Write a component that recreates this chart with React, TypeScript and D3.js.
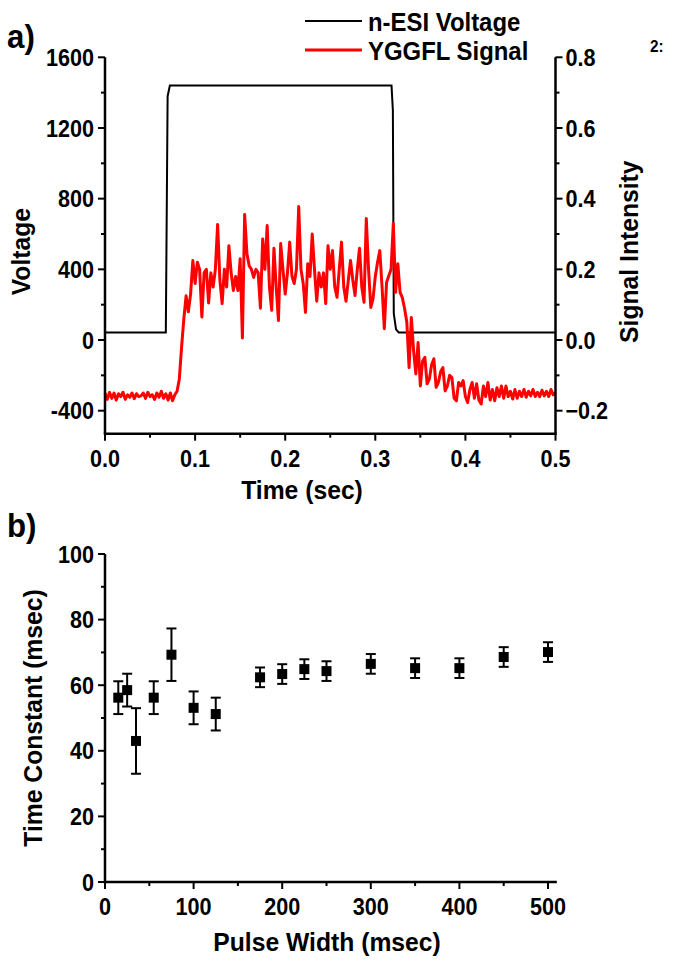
import React from 'react';
import * as d3 from 'd3';

// ---------- Panel a data ----------
const voltageTime = [0, 0.0675, 0.0695, 0.072, 0.318, 0.3195, 0.3205, 0.323, 0.326, 0.5];
const voltageValues = [43, 43, 1380, 1440, 1440, 1300, 150, 60, 43, 43];

const signalStep = 0.0025; // sampling interval (sec)
const signalValues = [
  -0.150, -0.168, -0.148, -0.165, -0.150, -0.170, -0.152, -0.160, -0.148, -0.168,
  -0.155, -0.162, -0.150, -0.166, -0.152, -0.160, -0.158, -0.150, -0.165, -0.148,
  -0.160, -0.155, -0.168, -0.150, -0.162, -0.145, -0.165, -0.152, -0.170, -0.150,
  -0.172, -0.155, -0.145, -0.110, -0.020, 0.060, 0.125, 0.080, 0.130, 0.225,
  0.160, 0.220, 0.200, 0.065, 0.190, 0.200, 0.105, 0.190, 0.150, 0.200,
  0.327, 0.170, 0.103, 0.200, 0.150, 0.267, 0.190, 0.140, 0.180, 0.140,
  0.230, 0.006, 0.355, 0.245, 0.210, 0.200, 0.177, 0.200, 0.190, 0.090,
  0.286, 0.200, 0.324, 0.150, 0.084, 0.260, 0.150, 0.055, 0.273, 0.200,
  0.130, 0.190, 0.277, 0.180, 0.160, 0.200, 0.378, 0.200, 0.160, 0.078,
  0.216, 0.180, 0.300, 0.200, 0.110, 0.190, 0.150, 0.190, 0.103, 0.267,
  0.200, 0.253, 0.150, 0.121, 0.200, 0.277, 0.150, 0.110, 0.168, 0.225,
  0.170, 0.126, 0.200, 0.260, 0.150, 0.107, 0.344, 0.200, 0.092, 0.117,
  0.180, 0.220, 0.253, 0.150, 0.032, 0.163, 0.182, 0.200, 0.330, 0.135,
  0.216, 0.135, 0.120, 0.089, 0.050, -0.078, 0.064, -0.030, -0.096, -0.007,
  -0.130, -0.060, -0.049, -0.124, -0.110, -0.070, -0.053, -0.134, -0.120, -0.090,
  -0.078, -0.144, -0.130, -0.100, -0.106, -0.165, -0.172, -0.120, -0.130, -0.115,
  -0.160, -0.177, -0.140, -0.120, -0.165, -0.124, -0.170, -0.181, -0.130, -0.160,
  -0.120, -0.170, -0.140, -0.172, -0.135, -0.160, -0.130, -0.165, -0.130, -0.160,
  -0.145, -0.167, -0.140, -0.165, -0.145, -0.160, -0.140, -0.162, -0.145, -0.158,
  -0.140, -0.160, -0.148, -0.160, -0.142, -0.158, -0.145, -0.160, -0.140, -0.155,
  -0.150,
];

const timeTicks = [0, 0.1, 0.2, 0.3, 0.4, 0.5];
const timeMinor = [0.05, 0.15, 0.25, 0.35, 0.45];
const voltTicks = [-400, 0, 400, 800, 1200, 1600];
const voltMinor = [-200, 200, 600, 1000, 1400];
const sigTicks = [-0.2, 0, 0.2, 0.4, 0.6, 0.8];
const sigMinor = [-0.1, 0.1, 0.3, 0.5, 0.7];

// ---------- Panel b data ----------
const pulseWidth = [15, 25, 35, 55, 75, 100, 125, 175, 200, 225, 250, 300, 350, 400, 450, 500];
const timeConstant = [56.2, 58.5, 43, 56.2, 69.3, 53.1, 51.2, 62.4, 63.4, 64.9, 64.3, 66.5, 65.2, 65.2, 68.6, 70.1];
const timeConstantErr = [5, 5, 10, 5, 8, 5, 5, 3, 3, 3, 3, 3, 3, 3, 3, 3];

const pwTicks = [0, 100, 200, 300, 400, 500];
const pwMinor = [50, 150, 250, 350, 450];
const tcTicks = [0, 20, 40, 60, 80, 100];
const tcMinor = [10, 30, 50, 70, 90];

const FONT = '"Liberation Sans", Arial, sans-serif';

// condensed bold text helper
function T(props: {
  x: number; y: number; size: number; sx?: number; rot?: number;
  anchor?: 'start' | 'middle' | 'end'; dy?: string; children: React.ReactNode;
}) {
  const { x, y, size, sx = 0.9, rot = 0, anchor = 'start', dy, children } = props;
  return (
    <text
      transform={`translate(${x},${y}) rotate(${rot}) scale(${sx},1)`}
      fontSize={size}
      textAnchor={anchor}
      dy={dy}
    >
      {children}
    </text>
  );
}

export default function App() {
  // Panel a scales
  const xA = d3.scaleLinear().domain([0, 0.5]).range([105, 555.5]);
  const yV = d3.scaleLinear().domain([-400, 1600]).range([410.7, 57.3]);
  const yS = d3.scaleLinear().domain([-0.2, 0.8]).range([410.7, 57.3]);
  const axisBottomA = yV(-530);

  const voltLine = d3.line<number>()
    .x((_, i) => xA(voltageTime[i]))
    .y((d) => yV(d))
    .curve(d3.curveLinear)(voltageValues) as string;

  const sigLine = d3.line<number>()
    .x((_, i) => xA(i * signalStep))
    .y((d) => yS(d))
    .curve(d3.curveLinear)(signalValues) as string;

  // Panel b scales
  const xB = d3.scaleLinear().domain([0, 500]).range([105, 548]);
  const yB = d3.scaleLinear().domain([0, 100]).range([882, 554]);
  const xBEnd = xB(510);

  const tickFont = 24;
  const labelFont = 26;
  const sw = 2.5;

  return (
    <svg
      width={686}
      height={968}
      style={{ position: 'absolute', left: 0, top: 0, background: '#fff' }}
      fontFamily={FONT}
      fontWeight="bold"
    >
      <rect x={0} y={0} width={686} height={968} fill="#fff" />

      {/* ---------------- Panel a ---------------- */}
      <T x={7} y={48} size={34} sx={0.92}>a)</T>
      <T x={650} y={52} size={17} sx={0.9}>2:</T>

      {/* legend */}
      <line x1={305} x2={362} y1={21} y2={21} stroke="#000" strokeWidth={2} />
      <T x={368} y={31} size={labelFont} sx={0.92}>n-ESI Voltage</T>
      <line x1={305} x2={362} y1={50} y2={50} stroke="#ff0000" strokeWidth={3} />
      <T x={368} y={60} size={labelFont} sx={0.92}>YGGFL Signal</T>

      {/* data */}
      <path d={voltLine} fill="none" stroke="#000" strokeWidth={2} />
      <path d={sigLine} fill="none" stroke="#ff0000" strokeWidth={3} strokeLinejoin="round" />

      {/* axes lines */}
      <line x1={xA(0)} x2={xA(0)} y1={yV(1600)} y2={axisBottomA} stroke="#000" strokeWidth={sw} />
      <line x1={xA(0.5)} x2={xA(0.5)} y1={yV(1600)} y2={axisBottomA} stroke="#000" strokeWidth={sw} />
      <line x1={xA(0) - 1.25} x2={xA(0.5) + 1.25} y1={axisBottomA} y2={axisBottomA} stroke="#000" strokeWidth={sw} />

      {/* left ticks */}
      {voltTicks.map((t) => (
        <g key={'vt' + t}>
          <line x1={xA(0) - 7} x2={xA(0)} y1={yV(t)} y2={yV(t)} stroke="#000" strokeWidth={2} />
          <T x={xA(0) - 11} y={yV(t)} dy="0.36em" anchor="end" size={tickFont}>{t}</T>
        </g>
      ))}
      {voltMinor.map((t) => (
        <line key={'vm' + t} x1={xA(0) - 4} x2={xA(0)} y1={yV(t)} y2={yV(t)} stroke="#000" strokeWidth={2} />
      ))}
      {/* right ticks */}
      {sigTicks.map((t) => (
        <g key={'st' + t}>
          <line x1={xA(0.5)} x2={xA(0.5) + 7} y1={yS(t)} y2={yS(t)} stroke="#000" strokeWidth={2} />
          <T x={xA(0.5) + 10} y={yS(t)} dy="0.36em" anchor="start" size={tickFont}>{d3.format('.1f')(t)}</T>
        </g>
      ))}
      {sigMinor.map((t) => (
        <line key={'sm' + t} x1={xA(0.5)} x2={xA(0.5) + 4} y1={yS(t)} y2={yS(t)} stroke="#000" strokeWidth={2} />
      ))}
      {/* bottom ticks */}
      {timeTicks.map((t) => (
        <g key={'tt' + t}>
          <line x1={xA(t)} x2={xA(t)} y1={axisBottomA} y2={axisBottomA + 7} stroke="#000" strokeWidth={2} />
          <T x={xA(t)} y={axisBottomA + 33} anchor="middle" size={tickFont}>{d3.format('.1f')(t)}</T>
        </g>
      ))}
      {timeMinor.map((t) => (
        <line key={'tm' + t} x1={xA(t)} x2={xA(t)} y1={axisBottomA} y2={axisBottomA + 4} stroke="#000" strokeWidth={2} />
      ))}

      <T x={302} y={499} anchor="middle" size={labelFont} sx={0.95}>Time (sec)</T>
      <T x={30} y={yV(500)} rot={-90} anchor="middle" size={labelFont} sx={0.95}>Voltage</T>
      <T x={638} y={yV(500)} rot={-90} anchor="middle" size={labelFont} sx={0.95}>Signal Intensity</T>

      {/* ---------------- Panel b ---------------- */}
      <T x={7} y={537} size={34} sx={0.92}>b)</T>

      {/* error bars + markers */}
      {pulseWidth.map((p, i) => {
        const cx = xB(p);
        const lo = yB(timeConstant[i] - timeConstantErr[i]);
        const hi = yB(timeConstant[i] + timeConstantErr[i]);
        return (
          <g key={'pt' + p}>
            <line x1={cx} x2={cx} y1={lo} y2={hi} stroke="#000" strokeWidth={2} />
            <line x1={cx - 5} x2={cx + 5} y1={lo} y2={lo} stroke="#000" strokeWidth={2} />
            <line x1={cx - 5} x2={cx + 5} y1={hi} y2={hi} stroke="#000" strokeWidth={2} />
            <rect x={cx - 5} y={yB(timeConstant[i]) - 5} width={10} height={10} fill="#000" />
          </g>
        );
      })}

      <line x1={xB(0)} x2={xB(0)} y1={yB(100)} y2={yB(0)} stroke="#000" strokeWidth={sw} />
      <line x1={xB(0) - 1.25} x2={xBEnd} y1={yB(0)} y2={yB(0)} stroke="#000" strokeWidth={sw} />

      {tcTicks.map((t) => (
        <g key={'ct' + t}>
          <line x1={xB(0) - 7} x2={xB(0)} y1={yB(t)} y2={yB(t)} stroke="#000" strokeWidth={2} />
          <T x={xB(0) - 11} y={yB(t)} dy="0.36em" anchor="end" size={tickFont}>{t}</T>
        </g>
      ))}
      {tcMinor.map((t) => (
        <line key={'cm' + t} x1={xB(0) - 4} x2={xB(0)} y1={yB(t)} y2={yB(t)} stroke="#000" strokeWidth={2} />
      ))}
      {pwTicks.map((t) => (
        <g key={'pw' + t}>
          <line x1={xB(t)} x2={xB(t)} y1={yB(0)} y2={yB(0) + 7} stroke="#000" strokeWidth={2} />
          <T x={xB(t)} y={yB(0) + 33} anchor="middle" size={tickFont}>{t}</T>
        </g>
      ))}
      {pwMinor.map((t) => (
        <line key={'pm' + t} x1={xB(t)} x2={xB(t)} y1={yB(0)} y2={yB(0) + 4} stroke="#000" strokeWidth={2} />
      ))}

      <T x={327} y={951} anchor="middle" size={labelFont} sx={0.95}>Pulse Width (msec)</T>
      <T x={42} y={yB(50)} rot={-90} anchor="middle" size={labelFont} sx={0.95}>Time Constant (msec)</T>
    </svg>
  );
}
